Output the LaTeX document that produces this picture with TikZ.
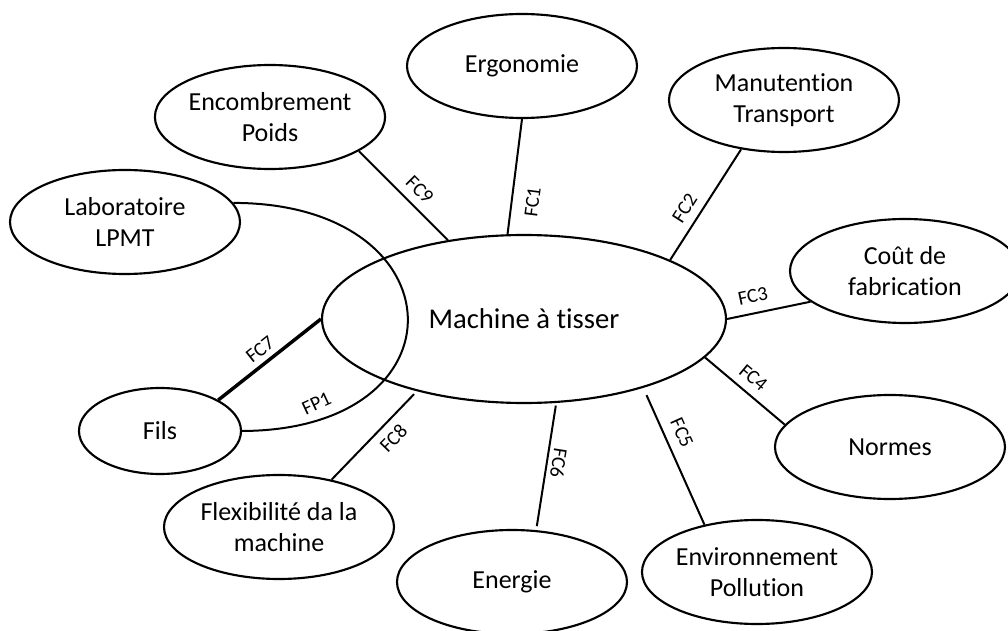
\documentclass[tikz,border=0pt]{standalone}
\usepackage{fontspec}
\setmainfont{Carlito}[Ligatures=NoCommon]
\usepackage{tikz}
\usetikzlibrary{shapes.geometric}

\tikzset{
  bulle/.style={draw, ellipse, line width=1.6pt, minimum width=172.5pt, minimum height=78pt,
    inner sep=0pt, align=center, font=\fontsize{19.5}{23}\selectfont},
  lien/.style={line width=1.5pt},
  fc/.style={font=\fontsize{15}{17}\selectfont, sloped, midway, inner sep=6pt}
}

\begin{document}
\begin{tikzpicture}[x=0.75pt, y=-0.75pt]
        \useasboundingbox (0,0) rectangle (1008,631);
        % bulle centrale
        \node[bulle, minimum width=303pt, minimum height=126pt, font=\fontsize{21.5}{24}\selectfont] (machine) at (524,319) {Machine à tisser};
        % milieux exterieurs
        \node[bulle] (ergo) at (522,66) {Ergonomie};
        \node[bulle] (encomb) at (270,117) {Encombrement\\Poids};
        \node[bulle] (manut) at (784,100) {Manutention\\Transport};
        \node[bulle] (labo) at (125,222) {Laboratoire\\LPMT};
        \node[bulle] (cout) at (905,271) {Coût de\\fabrication};
        \node[bulle] (normes) at (890,447) {Normes};
        \node[bulle] (envir) at (757,572) {Environnement\\Pollution};
        \node[bulle] (energie) at (512,582) {Energie};
        \node[bulle] (flex) at (279,527) {Flexibilité da la\\machine};
        \node[bulle, minimum width=121.5pt, minimum height=64.5pt] (fils) at (160,431) {Fils};
        % fonctions
        \draw[lien] (encomb.-21) -- node[fc, pos=0.56, above] {FC9} (machine.134);
        \draw[lien] (ergo.-90) -- node[fc, pos=0.7, below, inner sep=10pt] {FC1} (machine.101);
        \draw[lien] (manut.-131) -- node[fc, pos=0.61, above] {FC2} (machine.22);
        \draw[lien] (machine.0) -- node[fc, pos=0.35, above, inner sep=7pt] {FC3} (cout.-162);
        \draw[lien] (machine.-12) -- node[fc, pos=0.48, above] {FC4} (normes.168);
        \draw[lien, shorten <=6pt] (machine.-30) -- node[fc, pos=0.38, above, inner sep=7pt] {FC5} (envir.138);
        \draw[lien, shorten <=2pt, shorten >=3pt] (machine.-69) -- node[fc, pos=0.46, above, inner sep=3pt, allow upside down] {FC6} (energie.65);
        \draw[lien, shorten <=3pt] (machine.-146) -- node[fc, pos=0.41, below] {FC8} (flex.42);
        \draw[lien, line width=2.6pt] (fils.28) -- node[fc, pos=0.49, above, inner sep=4pt] {FC7} (machine.180);
        \draw[lien] (fils.east) .. controls (469,430) and (460,203) .. node[font=\fontsize{15}{17}\selectfont, pos=0.14, above, rotate=25, inner sep=7pt] {FP1} (labo.10);
\end{tikzpicture}
\end{document}
